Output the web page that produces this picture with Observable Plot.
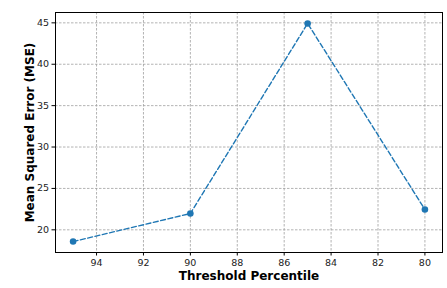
<!DOCTYPE html>
<html>
<head>
<meta charset="utf-8">
<script src="https://cdn.jsdelivr.net/npm/d3@7"></script>
<script src="https://cdn.jsdelivr.net/npm/@observablehq/plot@0.6"></script>
<style>
  body { margin: 0; background: #fff; }
  svg { display: block; }
</style>
</head>
<body>
<div id="chart"></div>
<script>
const thresholds = [95, 90, 85, 80];
const mse = [18.58, 21.97, 44.93, 22.45];
const xTicks = [94, 92, 90, 88, 86, 84, 82, 80];
const yTicks = [20, 25, 30, 35, 40, 45];

const data = thresholds.map((t, i) => ({t, v: mse[i]}));

const chart = Plot.plot({
  width: 447,
  height: 288,
  marginLeft: 55,
  marginRight: 5,
  marginTop: 12,
  marginBottom: 36,
  style: {fontFamily: "DejaVu Sans", fontSize: "9.5px", color: "#222", background: "#fff"},
  x: {domain: [95.75, 79.25], ticks: xTicks, tickSize: 3.5, tickPadding: 3, label: null, tickFormat: d => d},
  y: {domain: [17.26, 46.25], ticks: yTicks, tickSize: 3.5, tickPadding: 3, label: null},
  marks: [
    Plot.ruleX(xTicks, {stroke: "#a0a0a0", strokeWidth: 0.8, strokeDasharray: "2.5,1.5"}),
    Plot.ruleY(yTicks, {stroke: "#a0a0a0", strokeWidth: 0.8, strokeDasharray: "2.5,1.5"}),
    Plot.axisX({ticks: xTicks, tickSize: 3.5, tickPadding: 3, label: null, stroke: "#000", fill: "#222"}),
    Plot.axisY({ticks: yTicks, tickSize: 3.5, tickPadding: 3, label: null, stroke: "#000", fill: "#222"}),
    Plot.line(data, {x: "t", y: "v", stroke: "#1f77b4", strokeWidth: 1.4, strokeDasharray: "5,2.5"}),
    Plot.dot(data, {x: "t", y: "v", fill: "#1f77b4", r: 3.3}),
    Plot.frame({stroke: "#000", strokeWidth: 1}),
    Plot.text(["Threshold Percentile"], {frameAnchor: "bottom", dy: 27, fontSize: 12, fontWeight: "bold", fill: "#000"}),
    Plot.text(["Mean Squared Error (MSE)"], {frameAnchor: "left", textAnchor: "middle", dx: -25, rotate: -90, fontSize: 12, fontWeight: "bold", fill: "#000"})
  ]
});
document.getElementById("chart").appendChild(chart);
</script>
</body>
</html>
